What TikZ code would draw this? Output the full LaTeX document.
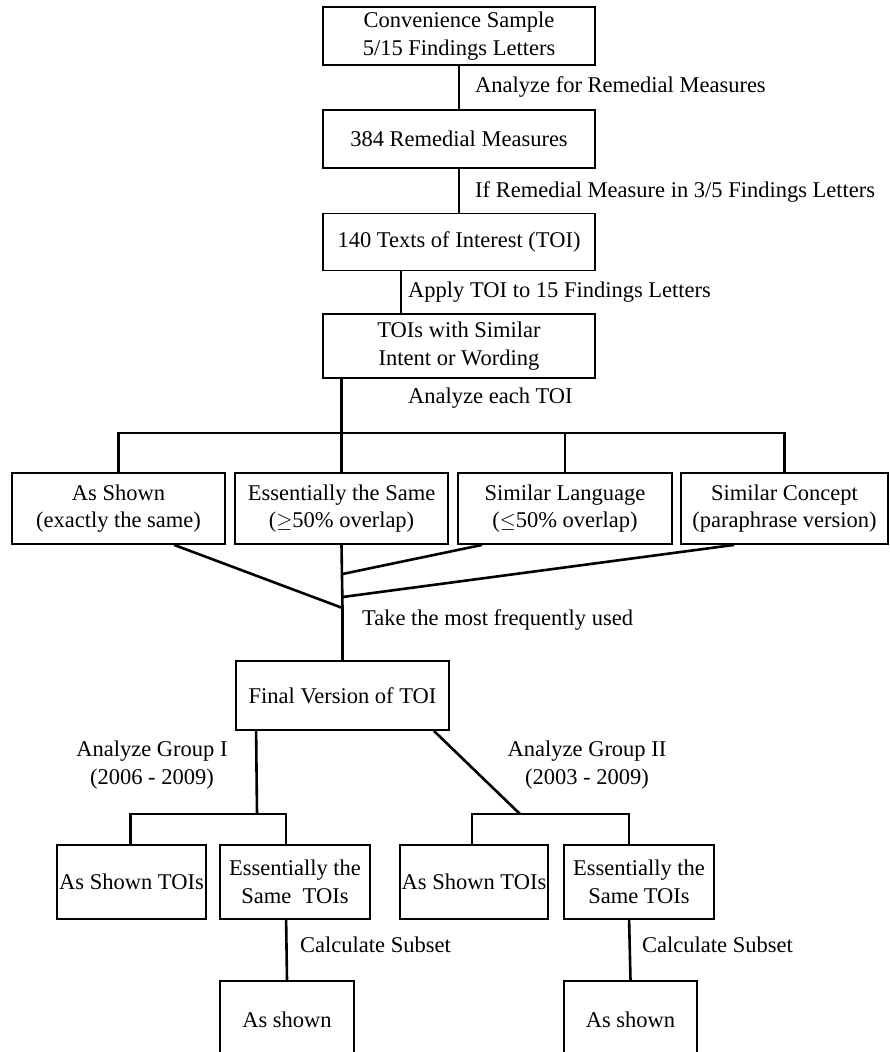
\documentclass[tikz,border=0pt]{standalone}
\usepackage{fontspec}
\setmainfont{Liberation Serif}
\begin{document}
\begin{tikzpicture}[x=1pt,y=-1pt,
  box/.style={draw,line width=1.8pt,rectangle,inner sep=0pt,align=center,font=\fontsize{22.5}{27.5}\selectfont},
  lbl/.style={inner sep=0pt,align=center,font=\fontsize{22.5}{27.5}\selectfont},
  conn/.style={line width=2.6pt}]
\useasboundingbox (0,0) rectangle (889,1052);
\clip (0,0) rectangle (889,1052);
% top chain
\node[box,minimum width=272pt,minimum height=58pt] (b1) at (459,36) {Convenience Sample\\5/15 Findings Letters};
\node[box,minimum width=272pt,minimum height=58pt] (b2) at (459,139) {384 Remedial Measures};
\node[box,minimum width=272pt,minimum height=57pt] (b3) at (459,242) {140 Texts of Interest (TOI)};
\node[box,minimum width=272pt,minimum height=64pt] (b4) at (459,346) {TOIs with Similar\\Intent or Wording};
% four categories
\node[box,minimum width=213pt,minimum height=71pt] (A) at (118.5,508.5) {As Shown\\(exactly the same)};
\node[box,minimum width=213pt,minimum height=71pt] (B) at (341.5,508.5) {Essentially the Same\\($\geq$50\% overlap)};
\node[box,minimum width=214pt,minimum height=71pt] (C) at (565,508.5) {Similar Language\\($\leq$50\% overlap)};
\node[box,minimum width=207pt,minimum height=71pt] (D) at (784.5,508.5) {Similar Concept\\(paraphrase version)};
% final
\node[box,minimum width=213pt,minimum height=69pt] (F) at (342.5,695.5) {Final Version of TOI};
% groups
\node[box,minimum width=149pt,minimum height=74pt] (G1a) at (131.5,882) {As Shown TOIs};
\node[box,minimum width=150pt,minimum height=74pt] (G1b) at (295,882) {Essentially the\\Same\ \ TOIs};
\node[box,minimum width=148pt,minimum height=74pt] (G2a) at (474,882) {As Shown TOIs};
\node[box,minimum width=150pt,minimum height=74pt] (G2b) at (639,882) {Essentially the\\Same TOIs};
\node[box,minimum width=134pt,minimum height=78pt] (G1c) at (287,1020) {As shown};
\node[box,minimum width=133pt,minimum height=78pt] (G2c) at (630.5,1020) {As shown};
% connectors top
\draw[conn] (b1.south) -- (b2.north);
\draw[conn] (b2.south) -- (b3.north);
\draw[conn] ([xshift=79pt]b3.south west) -- ([xshift=79pt]b4.north west);
\coordinate (bar) at (341.5,433);
\draw[conn] (B.north) -- (B.north |- b4.south);
\draw[conn] (A.north) |- (bar) -| (D.north);
\draw[conn] (C.north) -- (C.north |- bar);
% converge
\coordinate (m) at (342.5,608);
\coordinate (mc) at (342.5,574);
\coordinate (md) at (342.5,597);
\draw[conn] ([xshift=163pt]A.south west) -- (m);
\draw[conn] (B.south) -- (m);
\draw[conn] ([xshift=25pt]C.south west) -- (mc);
\draw[conn] ([xshift=54pt]D.south west) -- (md);
\draw[conn] (m) -- (F.north);
% group I
\coordinate (g1) at (257,814);
\draw[conn] ([xshift=21pt]F.south west) -- (g1);
\draw[conn] ([xshift=-1pt]G1a.north) |- (g1) -| ([xshift=67pt]G1b.north west);
\draw[conn] ([xshift=67pt]G1b.south west) -- (G1c.north);
% group II
\coordinate (g2) at (520,814);
\draw[conn] ([xshift=-16pt]F.south east) -- (g2);
\draw[conn] ([xshift=73pt]G2a.north west) |- (g2) -| ([xshift=66pt]G2b.north west);
\draw[conn] ([xshift=66pt]G2b.south west) -- (G2c.north);
% labels
\node[lbl,anchor=west] (l1) at (475,87) {Analyze for Remedial Measures};
\node[lbl,anchor=west] (l2) at (475,192) {If Remedial Measure in 3/5 Findings Letters};
\node[lbl,anchor=west] (l3) at (408,292) {Apply TOI to 15 Findings Letters};
\node[lbl,anchor=west] (l4) at (408,398) {Analyze each TOI};
\node[lbl,anchor=west] (l5) at (362,620) {Take the most frequently used};
\node[lbl] (l6) at (152,765) {Analyze Group I\\(2006 - 2009)};
\node[lbl] (l7) at (587,765) {Analyze Group II\\(2003 - 2009)};
\node[lbl,anchor=west] (l8) at (300,945) {Calculate Subset};
\node[lbl,anchor=west] (l9) at (642,945) {Calculate Subset};
\end{tikzpicture}
\end{document}
